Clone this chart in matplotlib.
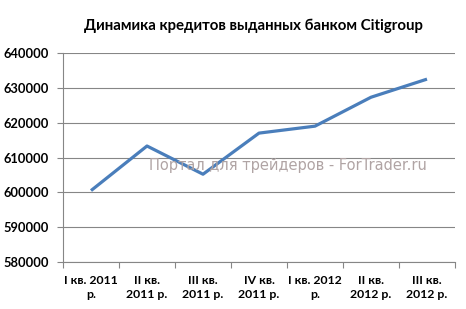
import numpy as np
import matplotlib.pyplot as plt

categories = ['I кв. 2011\nр.', 'II кв.\n2011 р.', 'III кв.\n2011 р.', 'IV кв.\n2011 р.',
              'I кв. 2012\nр.', 'II кв.\n2012 р.', 'III кв.\n2012 р.']
credits = [600500, 613300, 605200, 617000, 619000, 627300, 632500]
yticks = [580000, 590000, 600000, 610000, 620000, 630000, 640000]

plt.rcParams['font.family'] = ['Lato', 'DejaVu Sans']

fig = plt.figure(figsize=(4.66, 3.09), dpi=100)
ax = fig.add_axes([63/466, 1-262/309, (455-63)/466, (262-53)/309])

x = np.arange(len(credits))
ax.plot(x, credits, color='#4A7EBB', lw=2.3, solid_capstyle='butt')

ax.set_xlim(-0.5, len(credits)-0.5)
ax.set_ylim(580000, 640000)
ax.set_yticks(yticks)
ax.set_yticklabels([str(v) for v in yticks], fontsize=9.3, fontweight='bold')
ax.set_xticks(x)
ax.set_xticklabels(categories, fontsize=8.8, fontweight='bold', linespacing=1.35)
ax.set_xticks(np.arange(-0.5, len(credits)), minor=True)
ax.tick_params(axis='x', which='major', length=0, pad=9)
ax.tick_params(axis='x', which='minor', length=4, color='#868686', width=0.8)
ax.tick_params(axis='y', length=4, color='#868686', width=0.8, pad=6)

ax.grid(axis='y', color='#868686', lw=0.8)
ax.set_axisbelow(True)
for s in ['top', 'right']:
    ax.spines[s].set_visible(False)
for s in ['left', 'bottom']:
    ax.spines[s].set_color('#868686')
    ax.spines[s].set_linewidth(0.8)

fig.text(253/466, 1-26/309, 'Динамика кредитов выданных банком Citigroup',
         ha='center', va='center', fontsize=10.8, fontweight='bold')
ax.text(0.22, 0.46, 'Портал для трейдеров - ForTrader.ru', transform=ax.transAxes,
        fontsize=10.5, color='#B0A4A4', family=['DejaVu Sans'], va='center', ha='left')

fig.savefig('out.png', dpi=100)
